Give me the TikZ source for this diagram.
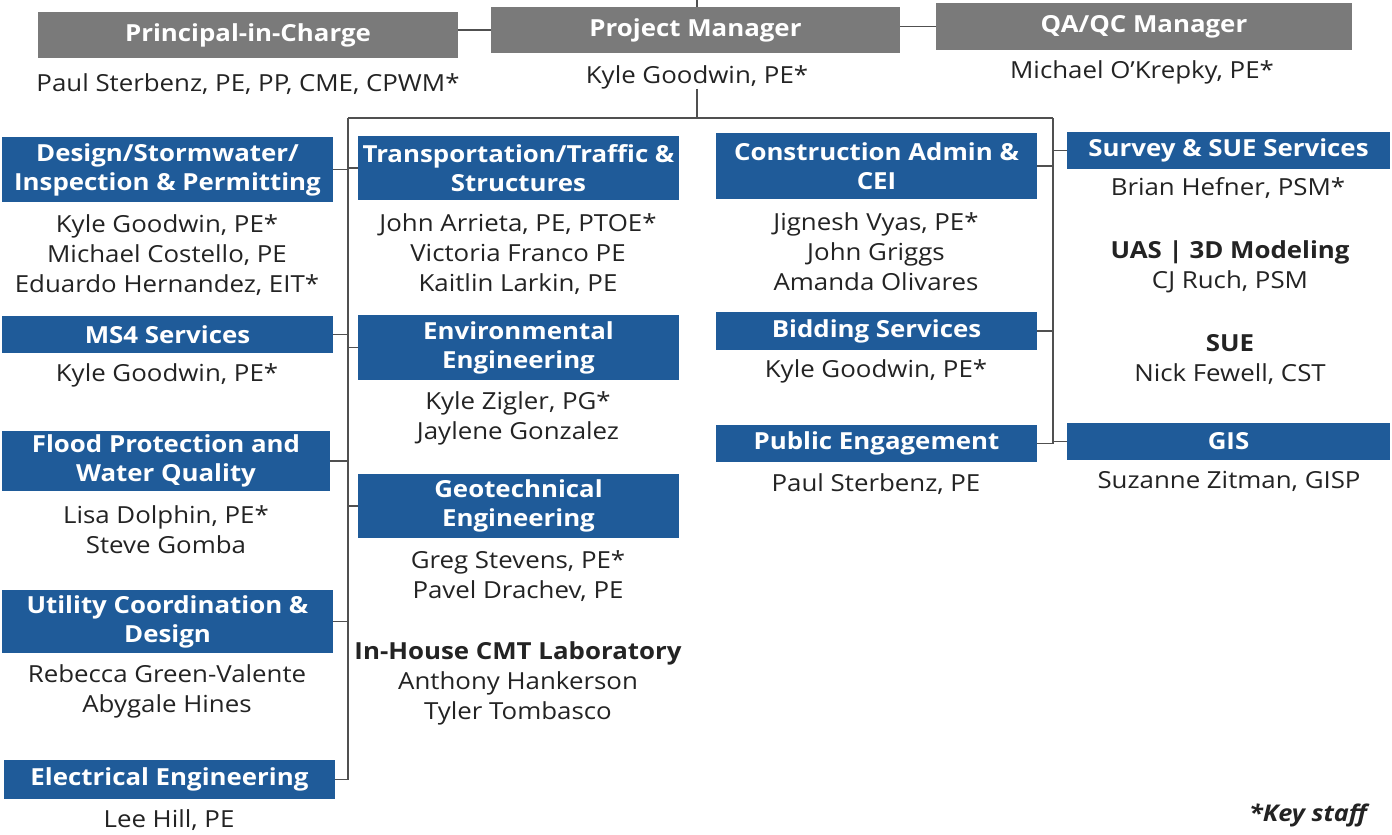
\documentclass[tikz,border=0pt]{standalone}
\usepackage{fontspec}
\setmainfont{Open Sans}[FakeStretch=1.1]
\definecolor{hdrblue}{RGB}{31,91,153}
\definecolor{hdrgray}{RGB}{122,122,122}
\definecolor{linegray}{RGB}{80,80,80}
\definecolor{txt}{RGB}{35,35,35}
\newcommand\headf{\bfseries\fontsize{23.5}{29}\selectfont}
\newcommand\namef{\fontsize{23.5}{30}\selectfont}
\begin{document}
\begin{tikzpicture}[x=1pt,y=-1pt,
  hbox/.style={fill=hdrblue,text=white,font=\headf,align=center,inner sep=0pt},
  gbox/.style={fill=hdrgray,text=white,font=\headf,align=center,inner sep=0pt},
  names/.style={text=txt,font=\namef,align=center,inner sep=0pt},
  conn/.style={draw=linegray,line width=1.3pt}]
\useasboundingbox[fill=white] (0,0) rectangle (1392,835);

% top row
\node[gbox,minimum width=420,minimum height=46] (principal) at (248,35) {Principal-in-Charge};
\node[names] (principalname) at (248,84) {Paul Sterbenz, PE, PP, CME, CPWM*};
\node[gbox,minimum width=409,minimum height=46] (pm) at (695.5,30) {Project Manager};
\node[names] (pmname) at (697,77) {Kyle Goodwin, PE*};
\node[gbox,minimum width=416,minimum height=47] (qa) at (1144,26.5) {QA/QC Manager};
\node[names] (qaname) at (1142,72) {Michael O’Krepky, PE*};

% left column
\node[hbox,minimum width=331,minimum height=65] (design) at (167.5,169.5) {Design/Stormwater/\\Inspection \& Permitting};
\node[names] (designnames) at (167,255) {Kyle Goodwin, PE*\\Michael Costello, PE\\Eduardo Hernandez, EIT*};
\node[hbox,minimum width=331,minimum height=37] (ms4) at (167.5,334.5) {MS4 Services};
\node[names] (ms4names) at (167,375) {Kyle Goodwin, PE*};
\node[hbox,minimum width=328,minimum height=60] (flood) at (166,461) {Flood Protection and\\Water Quality};
\node[names] (floodnames) at (166,530) {Lisa Dolphin, PE*\\Steve Gomba};
\node[hbox,minimum width=331,minimum height=63] (utility) at (167.5,621.5) {Utility Coordination \&\\Design};
\node[names] (utilitynames) at (167,691) {Rebecca Green-Valente\\Abygale Hines};
\node[hbox,minimum width=331,minimum height=39] (electrical) at (169.5,779.5) {Electrical Engineering};
\node[names] (electricalnames) at (169,820) {Lee Hill, PE};

% middle column
\node[hbox,minimum width=321,minimum height=64] (trans) at (518.5,168) {Transportation/Traffic \&\\Structures};
\node[names] (transnames) at (518,254) {John Arrieta, PE, PTOE*\\Victoria Franco PE\\Kaitlin Larkin, PE};
\node[hbox,minimum width=321,minimum height=65] (env) at (518.5,347.5) {Environmental\\Engineering};
\node[names] (envnames) at (518,418) {Kyle Zigler, PG*\\Jaylene Gonzalez};
\node[hbox,minimum width=321,minimum height=64] (geo) at (518.5,506) {Geotechnical\\Engineering};
\node[names] (geonames) at (518,576.5) {Greg Stevens, PE*\\Pavel Drachev, PE};
\node[names] (cmt) at (518,683.5) {\textbf{In-House CMT Laboratory}\\Anthony Hankerson\\Tyler Tombasco};

% right-middle column
\node[hbox,minimum width=321,minimum height=66] (cons) at (876.5,166) {Construction Admin \&\\CEI};
\node[names] (consnames) at (876,252) {Jignesh Vyas, PE*\\John Griggs\\Amanda Olivares};
\node[hbox,minimum width=321,minimum height=38] (bidding) at (876.5,331) {Bidding Services};
\node[names] (biddingnames) at (876,371) {Kyle Goodwin, PE*};
\node[hbox,minimum width=321,minimum height=37] (public) at (876.5,443.5) {Public Engagement};
\node[names] (publicnames) at (876,484) {Paul Sterbenz, PE};

% right column
\node[hbox,minimum width=323,minimum height=37] (survey) at (1228.5,150.5) {Survey \& SUE Services};
\node[names] (surveynames) at (1228,188) {Brian Hefner, PSM*};
\node[names] (uas) at (1230,267) {\textbf{UAS | 3D Modeling}\\CJ Ruch, PSM};
\node[names] (sue) at (1230,360) {\textbf{SUE}\\Nick Fewell, CST};
\node[hbox,minimum width=323,minimum height=37] (gis) at (1228.5,441.5) {GIS};
\node[names] (gisnames) at (1229,481) {Suzanne Zitman, GISP};

\node[text=txt,font=\bfseries\itshape\fontsize{23}{27}\selectfont,inner sep=0pt] (key) at (1308,815) {*Key staff};

% connectors
\coordinate (topc) at (697,0);
\coordinate (hub) at (697,118);
\coordinate (lbus) at (348,118);
\coordinate (rbus) at (1053,118);
\coordinate (lend) at (348,779.5);
\coordinate (rend) at (1053,443.5);

\draw[conn] (topc) -- (topc |- pm.north);
\draw[conn] (pm.west -| principal.east) -- (pm.west);
\draw[conn] (qa.west -| pm.east) -- (qa.west);
\draw[conn] (pmname.south) -- (hub);
\draw[conn] (lbus) -- (rbus);
\draw[conn] (lbus) -- (lend);
\draw[conn] (rbus) -- (rend);

\draw[conn] (design.east) -- (lbus |- design.east);
\draw[conn] (ms4.east) -- (lbus |- ms4.east);
\draw[conn] (flood.east) -- (lbus |- flood.east);
\draw[conn] (utility.east) -- (lbus |- utility.east);
\draw[conn] (electrical.east) -- (lbus |- electrical.east);
\draw[conn] (lbus |- trans.west) -- (trans.west);
\draw[conn] (lbus |- env.west) -- (env.west);
\draw[conn] (lbus |- geo.west) -- (geo.west);

\draw[conn] (cons.east) -- (rbus |- cons.east);
\draw[conn] (bidding.east) -- (rbus |- bidding.east);
\draw[conn] (public.east) -- (rbus |- public.east);
\draw[conn] (rbus |- survey.west) -- (survey.west);
\draw[conn] (rbus |- gis.west) -- (gis.west);
\end{tikzpicture}
\end{document}
